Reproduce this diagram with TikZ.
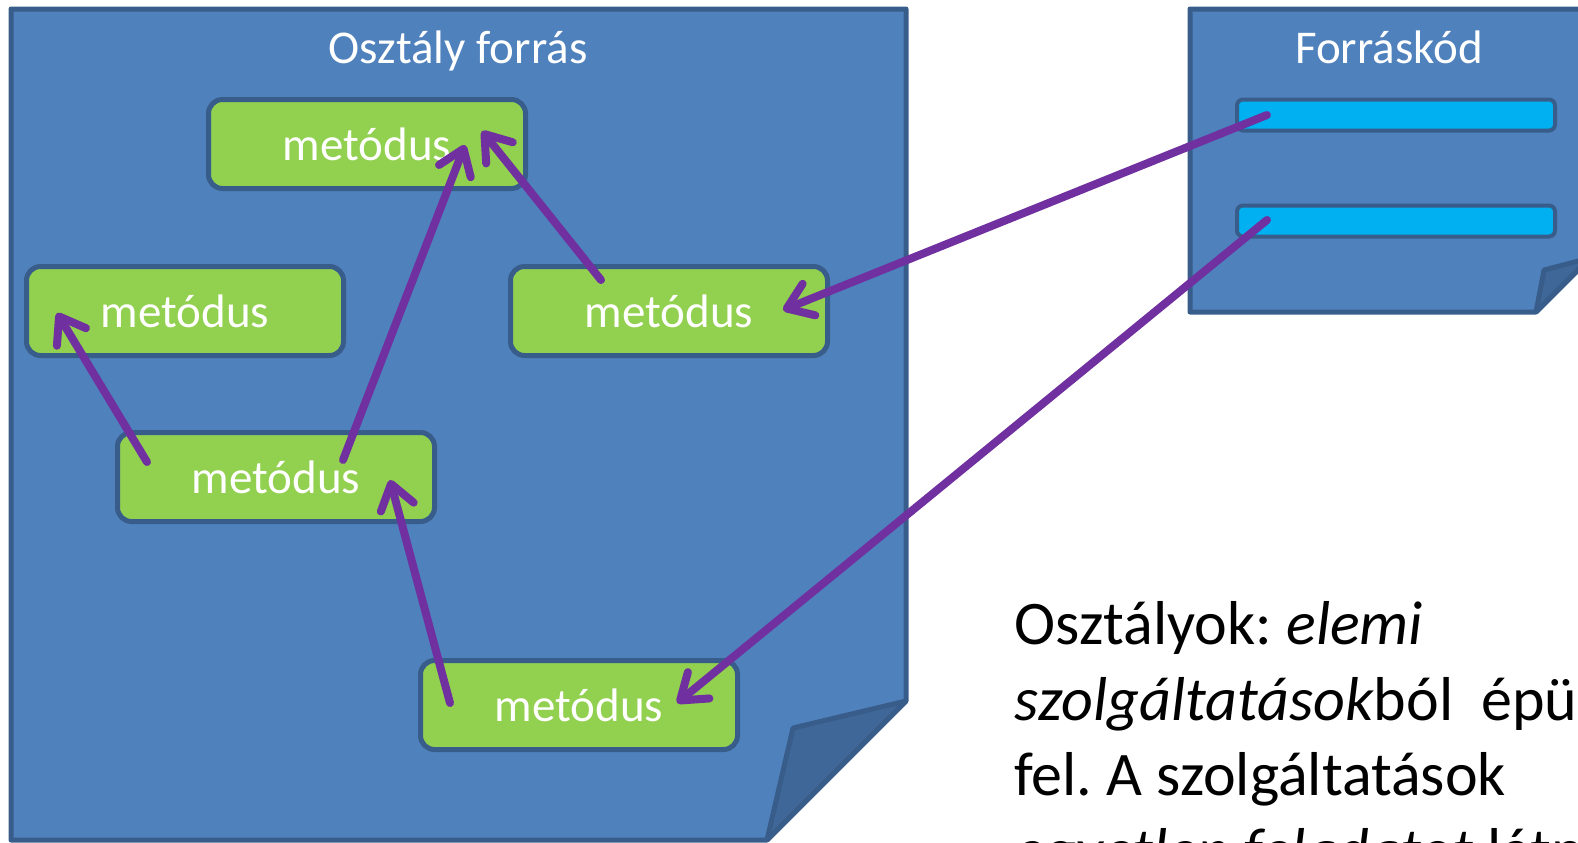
\documentclass[tikz,border=0pt]{standalone}
\usepackage{fontspec}
\setmainfont{Carlito}
\usetikzlibrary{arrows.meta}
\frenchspacing

\definecolor{lap}{HTML}{4F81BD}
\definecolor{keret}{HTML}{385D8A}
\definecolor{hajtas}{HTML}{3F6797}
\definecolor{zold}{HTML}{92D050}
\definecolor{kek}{HTML}{00B0F0}
\definecolor{lila}{HTML}{7030A0}

\begin{document}
\begin{tikzpicture}[x=0.5pt, y=-0.5pt,
    lapstil/.style={draw=keret, line width=2.5pt, line join=round},
    cim/.style={text=white, inner sep=0pt, font=\fontsize{23.5}{28}\selectfont},
    metod/.style={rectangle, rounded corners=7pt, draw=keret, line width=2.5pt, fill=zold, text=white,
        minimum width=158.5pt, minimum height=44.5pt, font=\fontsize{23.5}{28}\selectfont},
    sor/.style={rectangle, rounded corners=3pt, draw=keret, line width=2pt, fill=kek,
        minimum width=159pt, minimum height=15.5pt, inner sep=0pt},
    arrow/.style={draw=lila, line width=4pt, line cap=round, -{Straight Barb[length=12pt, width=17pt, round]}}
]

\clip (0,0) rectangle (1578,842);

% Lapok
\filldraw[lapstil, fill=lap] (11,9) -- (906,9) -- (906,701) -- (767,840) -- (11,840) -- cycle;
\filldraw[lapstil, fill=hajtas] (906,701) -- (793,728) -- (767,840) -- cycle;
\filldraw[lapstil, fill=lap] (1190,9) -- (1590,9) -- (1590,258) -- (1536,312) -- (1190,312) -- cycle;
\filldraw[lapstil, fill=hajtas] (1590,258) -- (1544,270) -- (1536,312) -- cycle;

\node[cim, anchor=base] (osztaly) at (458,63) {Osztály forrás};
\node[cim, anchor=base] (forras) at (1389,63) {Forráskód};

% Metódusok
\node[metod] (mTop) at (367,144) {metódus};
\node[metod] (mLeft) at (185,311) {metódus};
\node[metod] (mRight) at (669,311) {metódus};
\node[metod] (mMid) at (276,477) {metódus};
\node[metod] (mBot) at (579,705) {metódus};

% Forráskód sorai
\node[sor] (sor1) at (1396,115) {};
\node[sor] (sor2) at (1396,221) {};

% Nyilak
\draw[arrow] ([shift={(67,-17)}]mMid.center) -- ([shift={(98,1)}]mTop.center);
\draw[arrow] ([shift={(-68,-31)}]mRight.center) -- ([shift={(115,-13)}]mTop.center);
\draw[arrow] ([shift={(-129,-15)}]mMid.center) -- ([shift={(-128,2)}]mLeft.center);
\draw[arrow] ([shift={(-129,-2)}]mBot.center) -- ([shift={(114,3)}]mMid.center);
\draw[arrow] ([shift={(-129,0)}]sor1.center) -- ([shift={(114,-1)}]mRight.center);
\draw[arrow] ([shift={(-129,-1)}]sor2.center) -- ([shift={(98,-2)}]mBot.center);

% Szöveg (az utolsó sor alapvonalához igazítva)
\node[anchor=base west, inner sep=0pt, align=left, font=\fontsize{31}{37.75}\selectfont] (leiras) at (1014,871)
    {Osztályok: \textit{elemi}\\
     \textit{szolgáltatások}ból\ \ épülnek\\
     fel. A szolgáltatások\\
     \textit{egyetlen feladatot} látnak el.};

\end{tikzpicture}
\end{document}
